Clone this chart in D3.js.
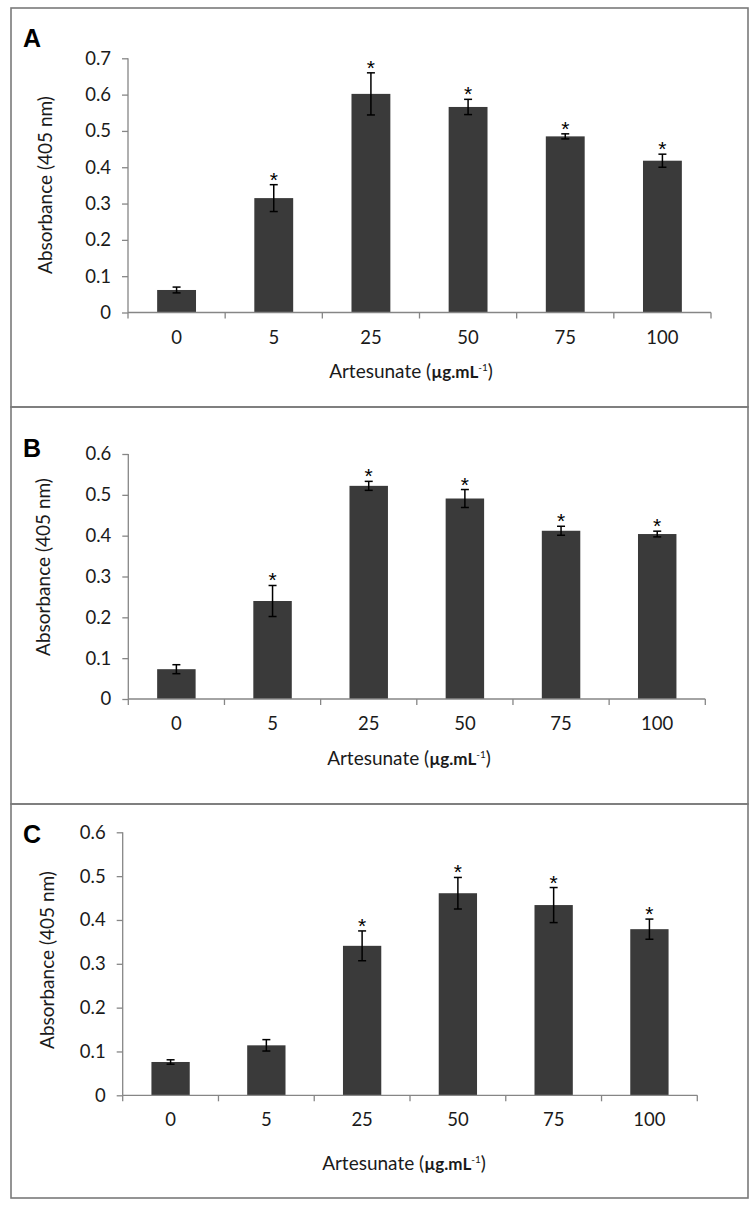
<!DOCTYPE html>
<html>
<head>
<meta charset="utf-8">
<script src="https://cdn.jsdelivr.net/npm/d3@7"></script>
<style>
  body { margin: 0; background: #fff; }
  text { font-family: Lato, "Open Sans", sans-serif; fill: #1a1a1a; }
</style>
</head>
<body>
<svg id="chart" width="756" height="1211"></svg>
<script>
// concentrations of artesunate (ug/mL)
var categories = ["0", "5", "25", "50", "75", "100"];

// panel A
var absA = [0.062, 0.315, 0.602, 0.566, 0.485, 0.418];
var errA = [0.008, 0.037, 0.058, 0.021, 0.007, 0.018];
var starA = [false, true, true, true, true, true];
var ticksA = [0, 0.1, 0.2, 0.3, 0.4, 0.5, 0.6, 0.7];

// panel B
var absB = [0.073, 0.240, 0.522, 0.491, 0.412, 0.404];
var errB = [0.011, 0.038, 0.011, 0.022, 0.011, 0.007];
var starB = [false, true, true, true, true, true];
var ticksB = [0, 0.1, 0.2, 0.3, 0.4, 0.5, 0.6];

// panel C
var absC = [0.076, 0.114, 0.341, 0.461, 0.434, 0.379];
var errC = [0.005, 0.013, 0.034, 0.036, 0.040, 0.023];
var starC = [false, false, true, true, true, true];
var ticksC = [0, 0.1, 0.2, 0.3, 0.4, 0.5, 0.6];

var svg = d3.select("#chart");
var axisColor = "#868686";
var barColor = "#3a3a3a";

// frames round the three panels
var frames = [[8, 407], [407, 804], [804, 1198]];
frames.forEach(function(f){
  svg.append("rect")
    .attr("x", 11).attr("y", f[0])
    .attr("width", 737).attr("height", f[1] - f[0])
    .attr("fill", "none")
    .attr("stroke", "#7a7a7a")
    .attr("stroke-width", 1.6);
});

function drawPanel(p){
  var g = svg.append("g");

  var x = d3.scaleBand()
    .domain(categories)
    .range([p.left, p.right])
    .paddingInner(0.6)
    .paddingOuter(0.3);

  var y = d3.scaleLinear()
    .domain([0, p.ticks[p.ticks.length - 1]])
    .range([p.bottom, p.top]);

  // y axis
  var ya = g.append("g")
    .attr("transform", "translate(" + p.left + ",0)")
    .call(d3.axisLeft(y)
      .tickValues(p.ticks)
      .tickSize(6)
      .tickPadding(11)
      .tickFormat(function(d){ return d === 0 ? "0" : d.toFixed(1); }));
  ya.selectAll("path, line").attr("stroke", axisColor).attr("stroke-width", 1.3);
  ya.select(".domain").attr("d", "M0," + p.top + "V" + p.bottom);
  ya.selectAll("text").attr("font-size", 18.5).attr("font-family", "Lato").attr("fill", "#1a1a1a");

  // bars
  g.selectAll(".bar")
    .data(p.values)
    .enter().append("rect")
    .attr("x", function(d, i){ return x(categories[i]); })
    .attr("y", function(d){ return y(d); })
    .attr("width", x.bandwidth())
    .attr("height", function(d){ return y(0) - y(d); })
    .attr("fill", barColor);

  // x axis: labels from axisBottom, ticks on category boundaries
  var xa = g.append("g")
    .attr("transform", "translate(0," + p.bottom + ")")
    .call(d3.axisBottom(x).tickSize(0).tickPadding(18));
  xa.select(".domain").attr("stroke", axisColor).attr("stroke-width", 1.3)
    .attr("d", "M" + p.left + ",0H" + p.right);
  xa.selectAll("text").attr("font-size", 18.5).attr("font-family", "Lato").attr("fill", "#1a1a1a");

  var step = x.step();
  var bounds = d3.range(categories.length + 1).map(function(i){ return p.left + i * step; });
  g.selectAll(".xtick")
    .data(bounds)
    .enter().append("line")
    .attr("x1", function(d){ return d; }).attr("x2", function(d){ return d; })
    .attr("y1", p.bottom).attr("y2", p.bottom + 6)
    .attr("stroke", axisColor).attr("stroke-width", 1.3);

  // error bars
  var cx = function(i){ return x(categories[i]) + x.bandwidth() / 2; };
  p.values.forEach(function(v, i){
    var e = p.errors[i];
    var hi = y(v + e), lo = y(v - e);
    g.append("line").attr("x1", cx(i)).attr("x2", cx(i)).attr("y1", hi).attr("y2", lo)
      .attr("stroke", "#000").attr("stroke-width", 1.5);
    [hi, lo].forEach(function(yy){
      g.append("line").attr("x1", cx(i) - 4).attr("x2", cx(i) + 4).attr("y1", yy).attr("y2", yy)
        .attr("stroke", "#000").attr("stroke-width", 1.5);
    });
    if (p.stars[i]) {
      g.append("text")
        .attr("x", cx(i)).attr("y", hi + 2)
        .attr("text-anchor", "middle")
        .attr("font-size", 21)
        .style("font-family", "'Liberation Sans', Arial, sans-serif")
        .style("fill", "#000")
        .text("*");
    }
  });

  // panel letter
  svg.append("text")
    .attr("x", 23).attr("y", p.letterY)
    .attr("font-weight", "bold")
    .attr("font-size", 25)
    .style("font-family", "'Liberation Sans', Arial, sans-serif")
    .style("fill", "#000")
    .text(p.name);

  // y title
  svg.append("text")
    .attr("transform", "translate(" + (p.yTitleX + 6.5) + "," + p.yTitleY + ") rotate(-90)")
    .attr("text-anchor", "middle")
    .attr("font-size", 19)
    .text("Absorbance (405 nm)");

  // x title
  var t = svg.append("text")
    .attr("x", p.xTitleX).attr("y", p.xTitleY + 6.5)
    .attr("text-anchor", "middle")
    .attr("font-size", 19);
  t.append("tspan").text("Artesunate (");
  t.append("tspan").attr("font-weight", "bold").attr("font-size", 17).text("\u00b5g.mL");
  t.append("tspan").attr("font-size", 10).attr("dy", -7).text("-1");
  t.append("tspan").attr("dy", 7).text(")");
}

drawPanel({ name: "A", values: absA, errors: errA, stars: starA, ticks: ticksA,
  left: 128, right: 711, top: 58.3, bottom: 312.5,
  letterY: 46.5, yTitleX: 45, yTitleY: 185, xTitleX: 411, xTitleY: 371.7 });
drawPanel({ name: "B", values: absB, errors: errB, stars: starB, ticks: ticksB,
  left: 128.3, right: 705.3, top: 454, bottom: 699,
  letterY: 456.5, yTitleX: 43, yTitleY: 567, xTitleX: 409, xTitleY: 758 });
drawPanel({ name: "C", values: absC, errors: errC, stars: starC, ticks: ticksC,
  left: 122.7, right: 697.3, top: 832.3, bottom: 1095.3,
  letterY: 843, yTitleX: 47, yTitleY: 960, xTitleX: 404, xTitleY: 1163.3 });
</script>
</body>
</html>
